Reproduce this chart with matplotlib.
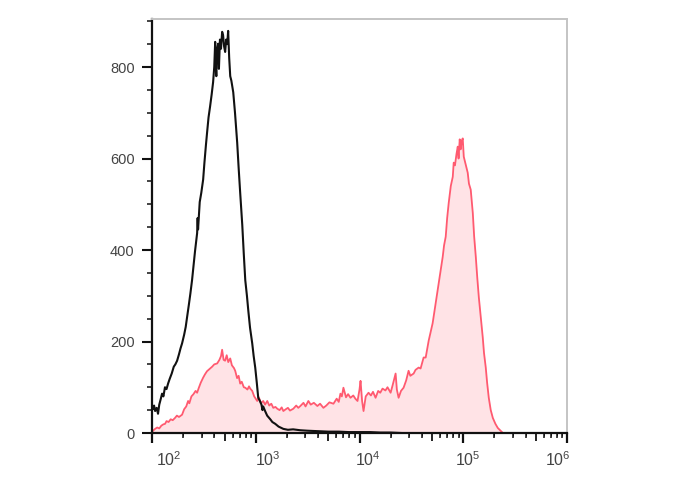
import matplotlib
matplotlib.use("Agg")
import matplotlib.pyplot as plt
import matplotlib.transforms as mtransforms
import numpy as np

plt.rcParams['font.family'] = ['Liberation Sans', 'DejaVu Sans']
plt.rcParams['mathtext.fontset'] = 'custom'
plt.rcParams['mathtext.rm'] = 'Liberation Sans'
plt.rcParams['mathtext.it'] = 'Liberation Sans'

# ---- data (log10 fluorescence intensity, event count) ----
black_log = [2.00, 2.01, 2.02, 2.03, 2.045, 2.058, 2.07, 2.085, 2.097, 2.11, 2.125, 2.14, 2.155,
             2.17, 2.19, 2.21, 2.225, 2.242, 2.26, 2.275, 2.29, 2.31, 2.325, 2.338, 2.355, 2.37,
             2.386, 2.40, 2.415, 2.435, 2.44, 2.444, 2.46, 2.475, 2.493, 2.505, 2.52, 2.531, 2.545,
             2.56, 2.575, 2.589, 2.60, 2.609, 2.615, 2.62, 2.628, 2.638, 2.645, 2.655, 2.665, 2.676,
             2.685, 2.695, 2.705, 2.715, 2.725, 2.734, 2.744, 2.754, 2.765, 2.783, 2.80, 2.821,
             2.835, 2.85, 2.87, 2.885, 2.899, 2.915, 2.928, 2.945, 2.966, 2.98, 2.995, 3.01, 3.024,
             3.04, 3.055, 3.065, 3.072, 3.09, 3.11, 3.14, 3.16, 3.188, 3.22, 3.266, 3.31, 3.36,
             3.43, 3.5, 3.6, 3.7, 3.8, 3.9, 4.0, 4.1, 4.2, 4.3, 4.4]
black_count = [58, 52, 60, 48, 55, 42, 62, 75, 86, 80, 100, 96, 108,
               118, 130, 145, 150, 158, 172, 185, 196, 215, 232, 253, 280, 305,
               334, 365, 398, 437, 470, 445, 505, 525, 554, 590, 630, 657, 690,
               714, 740, 767, 800, 855, 800, 780, 840, 851, 796, 860, 840, 877,
               870, 845, 833, 860, 850, 879, 820, 780, 770, 745, 700, 635,
               580, 525, 455, 390, 334, 300, 268, 230, 196, 168, 143, 110, 77,
               70, 62, 50, 58, 48, 38, 30, 24, 20, 14, 9, 7, 8,
               6, 5, 4, 3, 3, 2, 2, 2, 1, 1, 0]

red_log = [2.00, 2.01, 2.03, 2.05, 2.07, 2.09, 2.11, 2.126, 2.14, 2.16, 2.18, 2.20, 2.222, 2.24,
           2.26, 2.29, 2.31, 2.33, 2.348, 2.36, 2.38, 2.40, 2.42, 2.435, 2.45, 2.47, 2.493, 2.51,
           2.53, 2.56, 2.58, 2.60, 2.628, 2.65, 2.665, 2.676, 2.69, 2.705, 2.72, 2.735, 2.754,
           2.77, 2.79, 2.802, 2.82, 2.835, 2.85, 2.865, 2.885, 2.899, 2.92, 2.935, 2.947, 2.966,
           2.985, 3.0, 3.014, 3.03, 3.05, 3.072, 3.09, 3.111, 3.13, 3.15, 3.169, 3.19, 3.208,
           3.23, 3.25, 3.266, 3.29, 3.31, 3.33, 3.362, 3.39, 3.41, 3.43, 3.46, 3.48, 3.507, 3.53,
           3.56, 3.594, 3.62, 3.652, 3.68, 3.71, 3.749, 3.78, 3.80, 3.816, 3.83, 3.845, 3.87,
           3.89, 3.913, 3.94, 3.96, 3.981, 4.0, 4.010, 4.025, 4.039, 4.06, 4.087, 4.11, 4.13,
           4.155, 4.18, 4.20, 4.222, 4.25, 4.27, 4.30, 4.32, 4.348, 4.36, 4.377, 4.40, 4.425,
           4.45, 4.473, 4.49, 4.522, 4.54, 4.57, 4.589, 4.60, 4.618, 4.638, 4.667, 4.705, 4.734,
           4.763, 4.785, 4.802, 4.815, 4.831, 4.845, 4.860, 4.88, 4.899, 4.908, 4.92, 4.935,
           4.947, 4.955, 4.966, 4.975, 4.985, 4.995, 5.005, 5.02, 5.035, 5.043, 5.055, 5.072,
           5.092, 5.105, 5.121, 5.135, 5.150, 5.17, 5.188, 5.20, 5.217, 5.23, 5.246, 5.265,
           5.285, 5.31, 5.333, 5.36, 5.382]
red_count = [2, 5, 9, 12, 10, 16, 19, 20, 26, 24, 30, 28, 33, 38,
             35, 40, 52, 58, 70, 65, 80, 85, 92, 88, 98, 110, 121, 128,
             135, 141, 145, 150, 152, 160, 168, 182, 160, 158, 170, 155, 163,
             148, 142, 136, 120, 125, 108, 112, 100, 99, 95, 102, 97, 92,
             80, 75, 70, 78, 65, 70, 62, 70, 60, 64, 55, 57, 53,
             50, 56, 48, 52, 55, 49, 53, 60, 55, 59, 66, 58, 70, 62,
             66, 59, 64, 55, 60, 67, 64, 75, 68, 86, 80, 99, 78,
             85, 77, 82, 75, 70, 95, 114, 70, 48, 80, 88, 82, 90,
             77, 92, 88, 97, 93, 100, 88, 105, 130, 95, 77, 92, 99,
             115, 136, 125, 130, 138, 143, 141, 150, 165, 165, 202, 240, 283,
             327, 360, 385, 410, 429, 470, 503, 540, 560, 591, 585, 610,
             626, 600, 642, 620, 638, 644, 604, 590, 575, 569, 545, 532,
             481, 430, 385, 340, 297, 250, 209, 175, 143, 110, 77, 50,
             33, 20, 11, 5, 0]

y_ticks = [0, 200, 400, 600, 800]
x_decades = [2, 3, 4, 5, 6]

# ---- figure ----
fig = plt.figure(figsize=(6.88, 4.90), dpi=100)
ax = fig.add_axes([152 / 688, 1 - 433 / 490, (567 - 152) / 688, (433 - 19) / 490])

bx = 10 ** np.array(black_log)
rx = 10 ** np.array(red_log)

ax.fill_between(rx, red_count, 0, color='#ffe3e6', lw=0, zorder=1)
ax.plot(rx, red_count, color='#ff5a70', lw=1.3, zorder=2)
ax.plot(bx, black_count, color='#111111', lw=1.5, zorder=3)

ax.set_xscale('log')
ax.set_xlim(10 ** x_decades[0], 10 ** x_decades[-1])
ax.set_ylim(0, 905)

# y ticks
ax.set_yticks(y_ticks)
ax.set_yticks(np.arange(0, 901, 50), minor=True)
ax.tick_params(axis='y', which='major', direction='out', length=7.5, width=1.5,
               colors='#111111', labelcolor='#444444', labelsize=10.5, pad=5)
ax.tick_params(axis='y', which='minor', direction='out', length=3.6, width=1.1, colors='#111111')

# x ticks
ax.set_xticks([10 ** d for d in x_decades])
ax.set_xticklabels([r'$10^{%d}$' % d for d in x_decades])
minor = [m * 10 ** d for d in x_decades[:-1] for m in (2, 3, 4, 6, 7, 8, 9)]
ax.set_xticks(minor, minor=True)
ax.xaxis.set_minor_formatter(matplotlib.ticker.NullFormatter())
ax.tick_params(axis='x', which='major', direction='out', length=7.5, width=1.6,
               colors='#111111', labelcolor='#444444', labelsize=11.5, pad=5)
ax.tick_params(axis='x', which='minor', direction='out', length=3.6, width=1.1, colors='#111111')

sec = ax.secondary_xaxis('bottom')
sec.set_xticks([5 * 10 ** d for d in x_decades[:-1]])
sec.xaxis.set_major_formatter(matplotlib.ticker.NullFormatter())
sec.tick_params(axis='x', direction='out', length=5.5, width=1.3, colors='#111111')
for s in sec.spines.values():
    s.set_visible(False)

# label offsets (as in reference)
offsets_px = [17, 12, 8, 5, -9]
for lab, off in zip(ax.get_xticklabels(), offsets_px):
    lab.set_transform(lab.get_transform() + mtransforms.ScaledTranslation(off / 100, 0, fig.dpi_scale_trans))

for side in ('left', 'bottom'):
    ax.spines[side].set_color('#111111')
    ax.spines[side].set_linewidth(1.6)
for side in ('top', 'right'):
    ax.spines[side].set_color('#c4c4c4')
    ax.spines[side].set_linewidth(1.4)

fig.savefig('out.png', dpi=100)
